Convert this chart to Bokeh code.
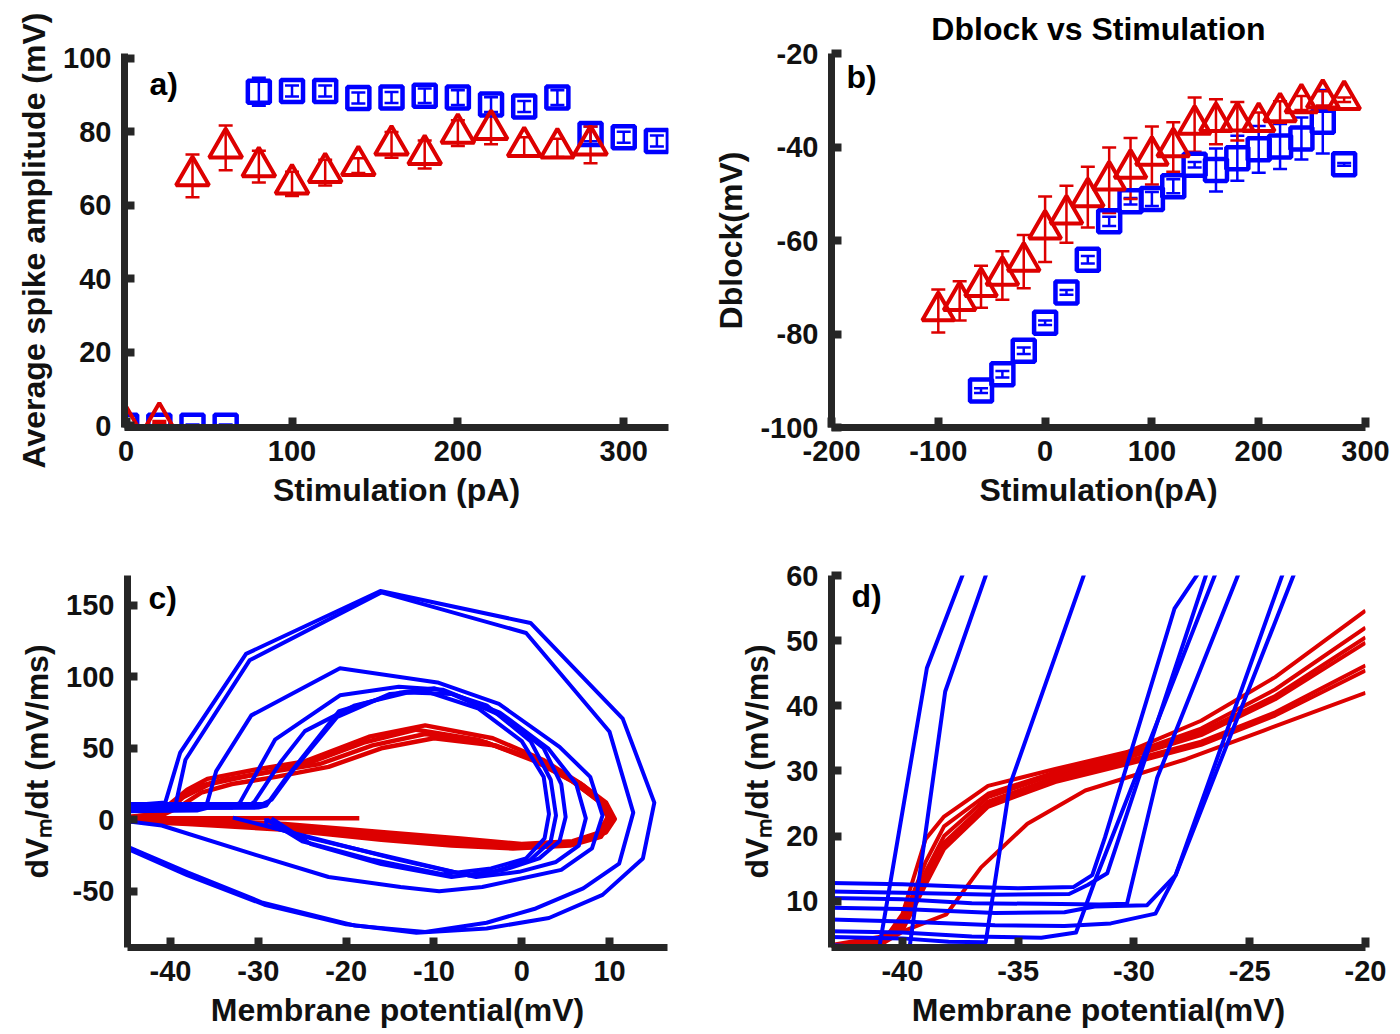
from bokeh.plotting import figure
from bokeh.layouts import column, row
from bokeh.models import (Range1d, FixedTicker, Whisker, TeeHead, ColumnDataSource, Label,
                          CustomJSTickFormatter)
from bokeh.embed import file_html
from bokeh.resources import INLINE

# ---------------- data ----------------
# panel a: average spike amplitude
a_red_x = [0, 20, 40, 60, 80, 100, 120, 140, 160, 180, 200, 220, 240, 260, 280]
a_red_y = [0, 1, 68.0, 75.6, 70.5, 65.8, 68.9, 70.8, 76.4, 73.8, 79.6, 80.6, 76.0, 75.6, 76.4]
a_red_e = [0.3, 0.3, 5.8, 6.1, 4.3, 3.3, 3.5, 2.0, 3.5, 3.8, 3.5, 4.0, 2.5, 2.5, 5.0]
a_blue_x = [0, 20, 40, 60, 80, 100, 120, 140, 160, 180, 200, 220, 240, 260, 280, 300, 320]
a_blue_y = [0, 0, 0, 0, 90.9, 91.1, 91.1, 89.2, 89.3, 89.8, 89.3, 87.4, 86.9, 89.3, 79.4, 78.5, 77.5]
a_blue_e = [0.3, 0.3, 0.3, 0.3, 3.8, 1.5, 1.5, 1.5, 1.5, 2.0, 2.0, 2.0, 1.5, 2.0, 2.0, 1.5, 1.5]

# panel b: Dblock vs stimulation
b_red_x = [-100, -80, -60, -40, -20, 0, 20, 40, 60, 80, 100, 120, 140, 160, 180, 200, 220, 240, 260, 280]
b_red_y = [-75.1, -72.9, -69.9, -67.5, -64.5, -57.6, -54.4, -50.7, -47.1, -44.6, -41.8, -40.0,
           -35.2, -34.6, -34.5, -34.6, -32.5, -30.6, -29.6, -29.9]
b_red_e = [4.6, 4.2, 4.5, 5.2, 5.7, 7.0, 6.1, 6.5, 7.0, 6.5, 6.2, 5.3, 5.8, 4.8, 4.1, 2.0, 2.3, 1.5, 1.5, 0.5]
b_blue_x = [-60, -40, -20, 0, 20, 40, 60, 80, 100, 120, 140, 160, 180, 200, 220, 240, 260, 280]
b_blue_y = [-92.1, -88.6, -83.6, -77.6, -71.1, -64.1, -55.9, -51.6, -51.1, -48.4, -43.8,
            -44.9, -42.4, -40.5, -39.9, -38.2, -34.6, -43.7]
b_blue_e = [0.5, 0.7, 0.7, 0.5, 0.5, 0.8, 1.0, 0.7, 1.5, 1.5, 0.6, 4.6, 4.8, 5.0, 4.8, 4.5, 6.8, 0.3]

# panel c: phase plots (V, dV/dt)
c_blue_loops = [
    ([-45, -40.6, -38.9, -31.4, -16.1, 1.0, 11.5, 15.1, 13.8, 9.2, 3.1, -4, -12, -20, -29.3, -38.1, -45],
     [10, 12, 47, 116, 160, 137.6, 70.7, 12, -27, -52.5, -68.7, -76, -79, -73, -59.4, -38.7, -20]),
    ([-45, -39.4, -38.3, -31, -16, 0.5, 10, 12.7, 11.1, 7, 1.6, -4, -11, -19, -29.5, -38, -45],
     [7, 11, 42, 111.5, 159, 130.6, 61.5, 5, -30.6, -48, -62, -72, -78.5, -74, -58, -37, -18.5]),
    ([-45, -37, -36, -34.8, -30.8, -20.7, -9.6, -2.6, 4.3, 7.8, 9.2, 8, 4.5, -4.5, -9.4, -13.8, -22, -30.4, -41, -45],
     [6, 6.5, 8, 34, 73, 106, 96, 81, 51, 30, 3, -20, -35, -47, -50, -47, -40, -24.4, -4, -1]),
    ([-45, -33, -32.1, -28.1, -20.7, -14, -9, -2.5, 3, 6.2, 7.3, 6.5, 3.9, -0.3, -5.2, -14, -23, -32.9],
     [9, 8.5, 12, 56, 87, 93, 91, 75, 50, 25, 1, -18, -29.5, -36.4, -40, -28, -14, 1.5]),
    ([-45, -31, -30.4, -27.5, -24.7, -19, -13, -8, -2, 2.5, 4.5, 5.0, 4.3, 2, -2, -6, -15, -24, -29.1, -29.1],
     [10, 10, 13, 40, 62, 80, 89, 88, 72, 50, 25, 2, -15, -27, -35, -39, -26, -13, -4, 1]),
    ([-45, -30, -29.1, -27, -20.8, -13.8, -10, -4, 1, 3.3, 3.9, 3.3, 1, -3, -8, -16, -24, -28.5],
     [8, 8.5, 10, 28, 76, 89, 92, 80, 55, 28, 3, -15, -28, -36, -40, -31, -17, 1]),
    ([-45, -29.5, -28.5, -26, -21, -15, -11, -5, 0, 2.5, 3.1, 2.6, 0.5, -3.5, -9, -17, -25, -29],
     [11, 11, 14, 35, 72, 88, 90, 78, 55, 30, 4, -13, -27, -34, -38, -28, -15, 0]),
]
c_red_loops = [
    ([-45, -42, -40.8, -38.1, -35.8, -30.4, -24.7, -17.4, -11, -3.3, 2.4, 6.6, 9.6, 10.6, 9.6, 6.6, 0.5, -7.1, -14.8, -26.6, -38.1, -45],
     [1, 3, 7.4, 21, 28.6, 35, 40.8, 58, 66, 57, 42, 25.8, 12, 0.5, -8.8, -15.7, -18, -14.5, -11, -4, -0.7, 0]),
    ([-45, -41.5, -39.8, -37, -34, -29, -23, -17, -11, -4, 1.5, 6, 9, 10, 9, 6, 0, -7, -15, -27, -38, -45],
     [2, 4, 12, 23, 28, 33, 39, 52, 60, 54, 41, 26, 12, 1, -10, -17, -19.5, -17, -13, -6, -2, -0.5]),
    ([-45, -41, -39, -36.5, -33, -28, -22, -16, -10, -3, 2.5, 7, 9.5, 10.2, 9, 5.5, -1, -8, -16, -27, -38, -45],
     [0.5, 3, 9, 19, 25, 30, 37, 50, 57, 52, 40, 24, 11, -1, -12, -18, -20, -18, -14, -7, -3, -1]),
    ([-45, -40.5, -38.5, -35.5, -31, -25, -18, -12, -5, 1, 5.5, 8.8, 9.8, 8.8, 5.8, 0, -7, -15, -27, -38, -45],
     [1.5, 5, 16, 25, 31, 38, 54, 63, 56, 43, 28, 13, 2, -9, -15, -17, -13, -9, -3, 0, 0.5]),
    ([-45, -40, -35, -30, -25, -18.5],
     [1, 1, 1, 1, 1, 1]),
]

# panel d: zoom on spike initiation
d_blue_lines = [
    ([-43.2, -42, -41, -38.94, -37.3], [3.3, 3.0, 2.8, 45.8, 61]),
    ([-43.2, -41, -39.7, -38.15, -36.3], [2.3, 2.3, 2.6, 42.2, 61]),
    ([-43.2, -40, -38, -36.4, -35.36, -32.07], [4.5, 4.3, 3.8, 3.7, 27.8, 61]),
    ([-43.2, -40, -37, -35, -32.6, -31.8, -31.25, -28.25, -27.1], [12.8, 12.6, 12.2, 12.0, 12.2, 14, 19.8, 54.9, 61]),
    ([-43.2, -40, -36, -32.8, -32, -31.15, -26.8], [11.5, 11.3, 11.0, 11.1, 12.5, 14.3, 61]),
    ([-43.2, -40, -37, -34, -32.5, -31.7, -26.4], [5.4, 5.2, 4.6, 4.4, 5.2, 13, 61]),
    ([-43.2, -40, -37, -34, -31.5, -30.3, -29, -25.4], [10.5, 10.3, 9.7, 9.6, 9.5, 9.6, 28.9, 61]),
    ([-43.2, -40, -36, -33, -31.7, -29.43, -28.2, -23.5], [9.0, 8.8, 8.2, 8.3, 9.2, 9.4, 14, 61]),
    ([-43.2, -40, -36, -33, -31, -29.07, -28.2, -23.0], [7.2, 6.9, 6.3, 6.2, 6.6, 8.1, 14, 61]),
]
d_red_x = [-43.2, -41, -40, -39, -38.2, -36.3, -33.4, -30.3, -27.1, -23.9, -20]
d_red_lines = [
    [2.5, 3, 8, 19.5, 23, 27.7, 30.3, 32.9, 37.7, 44.4, 54.6],
    [2.8, 3.5, 7, 16, 21.5, 26.5, 29.8, 32.5, 36.5, 42.5, 52],
    [3, 4, 6.5, 14.5, 20, 26, 29.5, 32.2, 36, 41.5, 50.5],
    [2.6, 3.2, 6, 13.5, 19, 25.3, 29, 32, 35.5, 41, 49.7],
    [3.2, 4.5, 6, 13, 18.5, 25, 28.7, 31.5, 34.5, 39, 46.2],
    [2.7, 3.8, 5.5, 12.5, 18, 24.5, 28.3, 31, 34, 38.5, 45.4],
]
d_red_out_x = [-43.2, -41, -39.9, -38.1, -36.6, -34.6, -32.1, -27.75, -24.4, -20]
d_red_out_y = [2.5, 3.2, 5.5, 8, 15.2, 21.9, 27, 31.8, 36.2, 42]

# ---------------- style ----------------
FONT = "Liberation Sans"
AX = "#262626"
RED = "#DD0000"
BLUE = "#0000FF"


def make(w, h, xr, yr, left, right, top, bottom):
    p = figure(width=w, height=h, x_range=Range1d(*xr), y_range=Range1d(*yr),
               output_backend="svg", toolbar_location=None,
               min_border_left=left, min_border_right=right,
               min_border_top=top, min_border_bottom=bottom)
    p.outline_line_color = None
    p.grid.visible = False
    p.background_fill_color = "white"
    p.border_fill_color = "white"
    return p


def style(p, xlabel, ylabel, xticks, yticks):
    p.xaxis.ticker = FixedTicker(ticks=xticks)
    p.yaxis.ticker = FixedTicker(ticks=yticks)
    p.xaxis.axis_label = xlabel
    p.yaxis.axis_label = ylabel
    for ax, std in ((p.xaxis[0], 13), (p.yaxis[0], 13)):
        ax.formatter = CustomJSTickFormatter(code="return String(tick);")
        ax.axis_line_width = 7
        ax.axis_line_color = AX
        ax.major_tick_line_width = 8
        ax.major_tick_line_color = AX
        ax.major_tick_in = 10
        ax.major_tick_out = 0
        ax.minor_tick_line_color = None
        ax.major_label_text_font = FONT
        ax.major_label_text_font_style = "bold"
        ax.major_label_text_font_size = "29px"
        ax.major_label_text_color = "#111111"
        ax.major_label_standoff = std
        ax.axis_label_text_font = FONT
        ax.axis_label_text_font_style = "bold"
        ax.axis_label_text_font_size = "32px"
        ax.axis_label_text_color = "#111111"
        ax.axis_label_standoff = 8


def errbars(p, xs, ys, es, color):
    src = ColumnDataSource(dict(x=xs, lo=[y - e for y, e in zip(ys, es)], hi=[y + e for y, e in zip(ys, es)]))
    w = Whisker(source=src, base="x", lower="lo", upper="hi", line_color=color, line_width=2.5,
                upper_head=TeeHead(size=14, line_color=color, line_width=2.5),
                lower_head=TeeHead(size=14, line_color=color, line_width=2.5))
    p.add_layout(w)


def panel_label(p, x, y, txt):
    p.add_layout(Label(x=x, y=y, text=txt, text_font=FONT, text_font_style="bold",
                       text_font_size="32px", text_color="black", text_baseline="middle"))


# ---------------- panel a ----------------
pa = make(700, 517, (-1, 327), (-0.5, 101.3), 124, 32, 48, 89)
style(pa, "Stimulation (pA)", "Average spike amplitude (mV)", [0, 100, 200, 300], [0, 20, 40, 60, 80, 100])
pa.scatter(a_blue_x, a_blue_y, marker="square", size=22, fill_color=None, line_color=BLUE, line_width=4.5)
pa.scatter(a_red_x, a_red_y, marker="triangle", size=33, fill_color=None, line_color=RED, line_width=4)
errbars(pa, a_blue_x, a_blue_y, a_blue_e, BLUE)
errbars(pa, a_red_x, a_red_y, a_red_e, RED)
panel_label(pa, 14, 93, "a)")

# ---------------- panel b ----------------
pb = make(700, 517, (-200, 300), (-100, -20), 131, 35, 53, 90)
style(pb, "Stimulation(pA)", "Dblock(mV)", [-200, -100, 0, 100, 200, 300], [-100, -80, -60, -40, -20])
pb.title.text = "Dblock vs Stimulation"
pb.title.align = "center"
pb.title.text_font = FONT
pb.title.text_font_style = "bold"
pb.title.text_font_size = "32px"
pb.title.text_color = "black"
pb.title.standoff = 14
pb.scatter(b_blue_x, b_blue_y, marker="square", size=22, fill_color=None, line_color=BLUE, line_width=4.5)
pb.scatter(b_red_x, b_red_y, marker="triangle", size=32, fill_color=None, line_color=RED, line_width=4)
errbars(pb, b_blue_x, b_blue_y, b_blue_e, BLUE)
errbars(pb, b_red_x, b_red_y, b_red_e, RED)
panel_label(pb, -186, -25, "b)")

# ---------------- panel c ----------------
pc = make(700, 517, (-44.9, 16.6), (-89.3, 170.8), 127, 33, 56, 86)
style(pc, "Membrane potential(mV)", "dV\u2098/dt (mV/ms)", [-40, -30, -20, -10, 0, 10], [-50, 0, 50, 100, 150])
for xs, ys in c_red_loops:
    pc.line(xs, ys, line_color=RED, line_width=4.5, line_join="round")
for xs, ys in c_blue_loops:
    pc.line(xs, ys, line_color=BLUE, line_width=4, line_join="round")
panel_label(pc, -42.5, 155, "c)")

# ---------------- panel d ----------------
pd = make(700, 517, (-43.06, -20), (2.9, 60), 131, 35, 58, 87)
style(pd, "Membrane potential(mV)", "dV\u2098/dt (mV/ms)", [-40, -35, -30, -25, -20], [10, 20, 30, 40, 50, 60])
for ys in d_red_lines:
    pd.line(d_red_x, ys, line_color=RED, line_width=4, line_join="round")
pd.line(d_red_out_x, d_red_out_y, line_color=RED, line_width=4, line_join="round")
for xs, ys in d_blue_lines:
    pd.line(xs, ys, line_color=BLUE, line_width=4, line_join="round")
panel_label(pd, -42.2, 56.8, "d)")

layout = column(row(pa, pb), row(pc, pd))
open("out.html", "w").write(file_html(layout, INLINE))
